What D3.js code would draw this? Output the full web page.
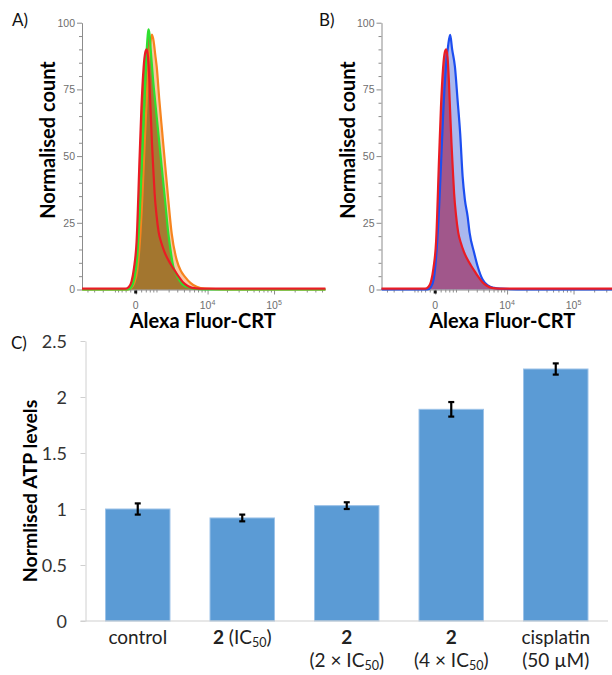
<!DOCTYPE html>
<html><head><meta charset="utf-8">
<script src="https://cdn.jsdelivr.net/npm/d3@7"></script>
<style>body{margin:0;background:#fff}svg{display:block}</style>
</head><body>
<svg id="chart" width="612" height="675"></svg>
<script>
// ---------------- DATA ----------------
// Flow cytometry histograms: [fluorescence, normalised count]
const countTicks = [0, 25, 50, 75, 100];
const fluorTicks = [0, 1e4, 1e5];
const fluorTickBase = ["0", "10", "10"];
const fluorTickExp = ["", "4", "5"];

const controlHist = [[-5000,0.3],[-400,0.3],[-250,1],[-150,3],[-60,8],[30,18],[140,50],[210,68],[300,83],[380,89],[440,90],[510,87],[580,78],[650,66],[720,55],[800,45],[880,36],[1000,28],[1150,21.5],[1350,17.5],[1600,14.2],[1900,11.5],[2300,9],[2800,6.5],[3200,4.8],[3800,2.8],[4600,1.4],[5600,0.6],[7500,0.3],[560000,0.3]];
const greenHist = [[-5000,0],[-300,0],[-150,1],[-50,4],[50,12],[150,30],[250,52],[350,73],[430,88],[490,95],[530,97.5],[580,96],[660,89],[780,79],[905,71],[1130,58.5],[1380,46],[1660,33.5],[1970,21],[2250,13.5],[2510,8.5],[3000,5],[3640,2.25],[4500,1],[6000,0.3],[9000,0],[560000,0]];
const orangeHist = [[-5000,0],[-300,0],[-150,0.8],[-50,2.5],[50,7],[150,18],[250,35],[350,55],[450,72],[550,86],[640,93],[720,95.5],[820,93],[920,88],[1015,83.5],[1200,71],[1430,58.5],[1685,46],[1970,33.5],[2320,21],[2930,11],[3500,7],[4180,4.75],[5200,2.5],[6650,1],[9100,0.3],[20000,0],[560000,0]];
const blueHist = [[-5000,0],[-300,0],[-150,1],[-50,4],[50,15],[150,33],[210,46],[300,65],[430,83.5],[550,92],[648,95.4],[760,90],[930,83.5],[1110,71],[1300,58.5],[1495,42.4],[1690,33.7],[1949,27.4],[2153,21.2],[2670,13.7],[3117,8.7],[3860,3.7],[4800,1.5],[6160,0.6],[8000,0.3],[20000,0],[560000,0]];

// ATP bar chart
const atpCategories = ["control", "2 (IC50)", "2 (2 × IC50)", "2 (4 × IC50)", "cisplatin (50 µM)"];
const atpValues = [1.00, 0.92, 1.03, 1.89, 2.25];
const atpErrors = [0.05, 0.03, 0.03, 0.065, 0.05];
const atpTicks = [0, 0.5, 1, 1.5, 2, 2.5];
const atpTickLabels = ["0", "0.5", "1", "1.5", "2", "2.5"];
// label lines: segments [text, kind] kind: n normal, b bold, s subscript
const atpLabelLines = [
  [[["control","n"]]],
  [[["2","b"],[" (IC","n"],["50","s"],[")","n"]]],
  [[["2","b"]],[["(2 × IC","n"],["50","s"],[")","n"]]],
  [[["2","b"]],[["(4 × IC","n"],["50","s"],[")","n"]]],
  [[["cisplatin","n"]],[["(50 µM)","n"]]]
];

// ---------------- DRAW ----------------
const svg = d3.select("#chart");
svg.append("rect").attr("width",612).attr("height",675).attr("fill","#fff");
const FONT = "Lato, 'Open Sans', sans-serif";
const AX = "#8c8c8c";

function histPanel(o) {
  const x = d3.scaleSymlog().constant(1000).domain([-5000, 552000]).range(o.xr);
  const y = d3.scaleLinear().domain([0, 100]).range(o.yr);
  const g = svg.append("g");
  const area = d3.area().x(d => x(d[0])).y0(y(0)).y1(d => y(d[1])).curve(d3.curveMonotoneX);
  const line = d3.line().x(d => x(d[0])).y(d => y(d[1])).curve(d3.curveMonotoneX);
  o.series.forEach(s => g.append("path").attr("d", area(s.data)).attr("fill", s.fill));

  const x0 = o.xr[0];
  g.append("g").attr("transform", `translate(${x0},0)`)
    .call(d3.axisLeft(y).tickValues(countTicks).tickSize(5).tickSizeOuter(0).tickFormat(""));
  const yMinor = d3.range(0, 101, 5).filter(v => !countTicks.includes(v));
  const ym = g.append("g").attr("transform", `translate(${x0},0)`)
    .call(d3.axisLeft(y).tickValues(yMinor).tickSize(3).tickSizeOuter(0).tickFormat(""));
  ym.select(".domain").remove();
  g.append("g").attr("transform", `translate(0,${y(0)})`)
    .call(d3.axisBottom(x).tickValues(fluorTicks).tickSize(5).tickSizeOuter(0).tickFormat(""));
  const xMinor = [-4000,-3000,-2000,-1000,-800,-600,-400,-200,200,400,600,800,1000,2000,3000,4000,5000,6000,7000,8000,9000,20000,30000,40000,50000,60000,70000,80000,90000,200000,300000,400000,500000];
  const xm = g.append("g").attr("transform", `translate(0,${y(0)})`)
    .call(d3.axisBottom(x).tickValues(xMinor).tickSize(3).tickSizeOuter(0).tickFormat(""));
  xm.select(".domain").remove();
  g.selectAll(".domain, .tick line").attr("stroke", AX).attr("stroke-width", 1);

  countTicks.forEach(v => g.append("text").attr("x", x0 - 7).attr("y", y(v) + 3.8)
    .attr("text-anchor", "end").attr("font-family", "'Liberation Sans', Arial, sans-serif")
    .attr("font-size", 10.5).attr("fill", "#6e6e6e").text(v));
  fluorTicks.forEach((v, i) => {
    const t = g.append("text").attr("x", x(v)).attr("y", y(0) + 19).attr("text-anchor", "middle")
      .attr("font-family", "'Liberation Sans', Arial, sans-serif").attr("font-size", 10.5).attr("fill", "#6e6e6e");
    t.append("tspan").text(fluorTickBase[i]);
    if (fluorTickExp[i]) t.append("tspan").attr("font-size", 7).attr("dy", -4).text(fluorTickExp[i]);
  });
  g.append("rect").attr("x", x(0) - 1.5).attr("y", y(0) + 1).attr("width", 3).attr("height", 3).attr("fill", "#111");

  o.series.forEach(s => g.append("path").attr("d", line(s.data)).attr("fill", "none")
    .attr("stroke", s.stroke).attr("stroke-width", 2.2).attr("stroke-linejoin", "round"));

  g.append("text").attr("transform", `translate(${x0 - 27},140) rotate(-90)`)
    .attr("text-anchor", "middle").attr("font-family", FONT).attr("font-weight", "bold")
    .attr("font-size", 20).attr("fill", "#000").text("Normalised count");
  g.append("text").attr("x", x(0) + 67).attr("y", 328).attr("text-anchor", "middle")
    .attr("font-family", FONT).attr("font-weight", "bold").attr("font-size", 20).attr("fill", "#000")
    .text("Alexa Fluor-CRT");
  g.append("text").attr("x", o.lx).attr("y", 26).attr("font-family", FONT).attr("font-size", 17)
    .attr("fill", "#111").text(o.label);
}

histPanel({
  xr: [82, 325], yr: [289.5, 22.7], lx: 12, label: "A)",
  series: [
    { data: orangeHist, fill: "#f9c6a3", stroke: "#f7841e" },
    { data: greenHist, fill: "#a57b33", stroke: "#2fe02f" },
    { data: controlHist, fill: "#a3762f", stroke: "#ea1c24" }
  ]
});
histPanel({
  xr: [381.5, 624.5], yr: [289.5, 22.7], lx: 319, label: "B)",
  series: [
    { data: blueHist, fill: "#a9b8ee", stroke: "#1d4ef0" },
    { data: controlHist, fill: "#a1578b", stroke: "#ea1c24" }
  ]
});

// ---- Panel C ----
const xC = d3.scaleBand().domain(atpCategories).range([85.5, 608]).paddingInner(0.383).paddingOuter(0.1915);
const yC = d3.scaleLinear().domain([0, 2.5]).range([621, 341]);
const gc = svg.append("g");
gc.selectAll("rect.bar").data(atpCategories).join("rect").attr("class", "bar")
  .attr("x", d => xC(d)).attr("width", xC.bandwidth())
  .attr("y", (d, i) => yC(atpValues[i])).attr("height", (d, i) => yC(0) - yC(atpValues[i]))
  .attr("fill", "#5b9bd5").attr("stroke", "#9cc2e8").attr("stroke-width", 1);

const yAxC = gc.append("g").attr("transform", `translate(${xC.range()[0]},0)`)
  .call(d3.axisLeft(yC).tickValues(atpTicks).tickSize(5).tickSizeOuter(0).tickFormat(""));
yAxC.selectAll(".domain, .tick line").attr("stroke", "#d0d0d0");
gc.append("line").attr("x1", xC.range()[0] - 5).attr("x2", xC.range()[1]).attr("y1", yC(0)).attr("y2", yC(0))
  .attr("stroke", "#d0d0d0").attr("stroke-width", 1.2);
atpTicks.forEach((v, i) => gc.append("text").attr("x", 67).attr("y", yC(v) + 6.5).attr("text-anchor", "end")
  .attr("font-family", FONT).attr("font-size", 18).attr("fill", "#333").text(atpTickLabels[i]));

atpCategories.forEach((c, i) => {
  const cx = xC(c) + xC.bandwidth() / 2;
  const t = yC(atpValues[i] + atpErrors[i]), b = yC(atpValues[i] - atpErrors[i]);
  gc.append("line").attr("x1", cx).attr("x2", cx).attr("y1", t).attr("y2", b).attr("stroke", "#000").attr("stroke-width", 2.2);
  [t, b].forEach(yy => gc.append("line").attr("x1", cx - 3).attr("x2", cx + 3).attr("y1", yy).attr("y2", yy)
    .attr("stroke", "#000").attr("stroke-width", 2.2));
});

atpCategories.forEach((c, i) => {
  const cx = xC(c) + xC.bandwidth() / 2;
  atpLabelLines[i].forEach((segs, li) => {
    const t = gc.append("text").attr("x", cx).attr("y", 644 + li * 23).attr("text-anchor", "middle")
      .attr("font-family", FONT).attr("font-size", 19).attr("fill", "#222");
    let sub = false;
    segs.forEach(([txt, k]) => {
      const ts = t.append("tspan").text(txt);
      if (k === "b") ts.attr("font-weight", "bold");
      if (k === "s") { ts.attr("font-size", 12.5).attr("dy", 3); sub = true; }
      else if (sub) { ts.attr("dy", -3); sub = false; }
    });
  });
});

gc.append("text").attr("transform", `translate(37,${(yC(0) + yC(2.5)) / 2 + 10}) rotate(-90)`)
  .attr("text-anchor", "middle").attr("font-family", FONT).attr("font-weight", "bold")
  .attr("font-size", 19.5).attr("fill", "#000").text("Normlised ATP levels");
gc.append("text").attr("x", 11).attr("y", 349).attr("font-family", FONT).attr("font-size", 17)
  .attr("fill", "#111").text("C)");
</script>
</body></html>
